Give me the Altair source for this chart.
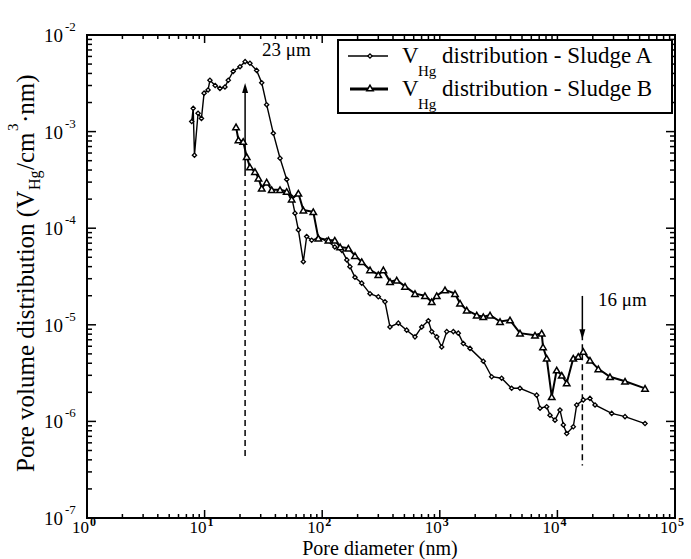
import altair as alt
import pandas as pd

# ---------------- data ----------------
a_diam = [7.77, 8.0, 8.2, 8.8, 9.4, 9.9, 10.7, 11.1, 12.3, 13.5, 14.9, 15.9, 17.5, 20.0,
          22.1, 24.3, 27.7, 30.6, 33.7, 38.4, 43.8, 49.9, 55.0, 58.7, 62.7, 69.1, 73.8,
          81.4, 92.7, 109, 128, 147, 162, 172, 190, 217, 255, 300, 342, 377, 444, 523,
          615, 702, 799, 854, 942, 1038, 1145, 1303, 1436, 1585, 1807, 2344, 2762, 3357,
          4083, 4806, 6664, 7115, 8111, 8650, 9540, 10520, 11230, 12000, 13650, 14590,
          16600, 18920, 20890, 28960, 37580, 55600]
a_vol = [1.27e-3, 1.74e-3, 5.7e-4, 1.55e-3, 1.37e-3, 2.5e-3, 2.7e-3, 3.4e-3, 3.0e-3,
         2.8e-3, 2.9e-3, 3.4e-3, 4.2e-3, 4.7e-3, 5.3e-3, 5.1e-3, 4.3e-3, 3.2e-3, 1.9e-3,
         9.6e-4, 5.3e-4, 3.2e-4, 2.1e-4, 1.43e-4, 9.6e-5, 4.5e-5, 8.2e-5, 7.5e-5, 7.9e-5,
         7.5e-5, 6.4e-5, 5.9e-5, 4.7e-5, 4.0e-5, 3.1e-5, 2.7e-5, 2.1e-5, 1.95e-5, 1.73e-5,
         9.5e-6, 1.04e-5, 8.8e-6, 7.5e-6, 9.5e-6, 1.1e-5, 8.5e-6, 7.5e-6, 5.9e-6, 8.5e-6,
         8.5e-6, 8.2e-6, 6.4e-6, 5.7e-6, 4.2e-6, 2.9e-6, 2.8e-6, 2.2e-6, 2.2e-6, 1.87e-6,
         1.37e-6, 1.42e-6, 1.16e-6, 1.03e-6, 1.31e-6, 9.2e-7, 7.5e-7, 8.8e-7, 1.48e-6,
         1.67e-6, 1.73e-6, 1.48e-6, 1.21e-6, 1.12e-6, 9.5e-7]

b_diam = [18.5, 19.4, 21.3, 22.8, 24.3, 26.8, 28.7, 30.6, 33.7, 37.2, 43.8, 49.9, 55.0,
          62.7, 69.1, 84, 92.7, 113, 128, 142, 167, 190, 217, 255, 300, 331, 377, 430,
          506, 615, 748, 854, 942, 1107, 1346, 1486, 1694, 2061, 2344, 2673, 3251, 3955,
          4806, 6450, 7350, 7550, 8111, 8950, 9860, 10890, 12000, 13650, 15060, 16600,
          18920, 22280, 28000, 37580, 55600]
b_vol = [1.12e-3, 8.2e-4, 7.9e-4, 5.5e-4, 4.3e-4, 3.85e-4, 3.3e-4, 2.6e-4, 3.0e-4, 2.5e-4,
         2.5e-4, 2.4e-4, 2.0e-4, 2.3e-4, 1.54e-4, 1.48e-4, 7.9e-5, 7.5e-5, 7.5e-5, 6.4e-5,
         6.2e-5, 5.2e-5, 4.5e-5, 3.7e-5, 3.3e-5, 3.7e-5, 2.8e-5, 2.9e-5, 2.5e-5, 2.1e-5,
         2.0e-5, 1.73e-5, 2.0e-5, 2.3e-5, 2.1e-5, 1.67e-5, 1.42e-5, 1.26e-5, 1.21e-5,
         1.26e-5, 1.08e-5, 1.12e-5, 8.2e-6, 7.8e-6, 8.2e-6, 5.9e-6, 4.5e-6, 1.8e-6, 3.4e-6,
         3.0e-6, 2.5e-6, 4.5e-6, 4.7e-6, 5.3e-6, 4.3e-6, 3.5e-6, 2.9e-6, 2.6e-6, 2.2e-6]

# annotation arrows (23 um peak and 16 um peak)
arrow_x = [22.1, 16300.0]
arrow_solid_from = [2.83e-3, 1.99e-5]
arrow_solid_to = [4.0e-4, 8.0e-6]
dash_from = [4.0e-4, 8.0e-6]
dash_to = [4.3e-7, 3.5e-7]
head_y = [2.83e-3, 8.0e-6]
head_dir = ["up", "down"]
annot_text = ["23 μm", "16 μm"]

x_exps = [0, 1, 2, 3, 4, 5]
y_exps = [-2, -3, -4, -5, -6, -7]
minor_mult = [2, 3, 4, 5, 6, 7, 8, 9]

# ---------------- layout ----------------
W, H = 588, 483
FONT = "Liberation Serif"

xs = alt.Scale(type="log", domain=[1, 1e5], nice=False)
ys = alt.Scale(type="log", domain=[1e-7, 1e-2], nice=False)

dfA = pd.DataFrame({"d": a_diam, "v": a_vol})
dfB = pd.DataFrame({"d": b_diam, "v": b_vol})

X = lambda f: alt.X(f, type="quantitative", scale=xs, axis=None)
Y = lambda f: alt.Y(f, type="quantitative", scale=ys, axis=None)

lineA = alt.Chart(dfA).mark_line(color="black", strokeWidth=1.4).encode(x=X("d"), y=Y("v"))
ptsA = alt.Chart(dfA).mark_point(shape="diamond", size=18, filled=True, fill="white",
                                 stroke="black", strokeWidth=1.3, opacity=1).encode(x=X("d"), y=Y("v"))
lineB = alt.Chart(dfB).mark_line(color="black", strokeWidth=2).encode(x=X("d"), y=Y("v"))
ptsB = alt.Chart(dfB).mark_point(shape="triangle-up", size=42, filled=True, fill="white",
                                 stroke="black", strokeWidth=1.5, opacity=1).encode(x=X("d"), y=Y("v"))

# ticks
x_major = [10.0 ** e for e in x_exps]
x_minor = [m * 10.0 ** e for e in x_exps[:-1] for m in minor_mult]
y_major = [10.0 ** e for e in y_exps]
y_minor = [m * 10.0 ** e for e in y_exps[1:] for m in minor_mult]

def xticks(vals, length):
    df = pd.DataFrame({"t": vals})
    bot = alt.Chart(df).mark_rule(color="black", strokeWidth=1.5).encode(
        x=X("t"), y=alt.value(H), y2=alt.value(H - length))
    top = alt.Chart(df).mark_rule(color="black", strokeWidth=1.5).encode(
        x=X("t"), y=alt.value(0), y2=alt.value(length))
    return [bot, top]

def yticks(vals, length):
    df = pd.DataFrame({"t": vals})
    left = alt.Chart(df).mark_rule(color="black", strokeWidth=1.5).encode(
        y=Y("t"), x=alt.value(0), x2=alt.value(length))
    right = alt.Chart(df).mark_rule(color="black", strokeWidth=1.5).encode(
        y=Y("t"), x=alt.value(W), x2=alt.value(W - length))
    return [left, right]

tick_layers = xticks(x_major, 8) + xticks(x_minor, 4) + yticks(y_major, 9) + yticks(y_minor, 5)

# tick labels 10^n
dfx = pd.DataFrame({"t": x_major, "e": [str(e) for e in x_exps]})
xl10 = alt.Chart(dfx).mark_text(font=FONT, fontSize=17, align="right", baseline="alphabetic",
                                dx=2, color="black").encode(x=X("t"), y=alt.value(H + 15), text=alt.value("10"))
xlexp = alt.Chart(dfx).mark_text(font=FONT, fontSize=12, fontWeight="bold", align="left",
                                 baseline="alphabetic", dx=3, color="black").encode(
    x=X("t"), y=alt.value(H + 8), text="e:N")
dfy = pd.DataFrame({"t": y_major, "e": [str(e) for e in y_exps]})
yl10 = alt.Chart(dfy).mark_text(font=FONT, fontSize=19, align="right", baseline="alphabetic",
                                dy=7, color="black").encode(y=Y("t"), x=alt.value(-24), text=alt.value("10"))
ylexp = alt.Chart(dfy).mark_text(font=FONT, fontSize=13, align="left", baseline="alphabetic",
                                 dy=-4, color="black").encode(y=Y("t"), x=alt.value(-22), text="e:N")

# annotations
dfa = pd.DataFrame({"x": arrow_x, "s1": arrow_solid_from, "s2": arrow_solid_to,
                    "d1": dash_from, "d2": dash_to, "hy": head_y, "dir": head_dir})
solid = alt.Chart(dfa).mark_rule(color="black", strokeWidth=1.5).encode(
    x=X("x"), y=Y("s1"), y2="s2")
dashed = alt.Chart(dfa).mark_rule(color="black", strokeWidth=1.5, strokeDash=[6, 4]).encode(
    x=X("x"), y=Y("d1"), y2="d2")
head_up = alt.Chart(dfa[dfa["dir"] == "up"]).mark_point(
    shape="M0,-1L0.6,1L-0.6,1Z", size=100, filled=True, color="black", opacity=1).encode(x=X("x"), y=Y("hy"))
head_dn = alt.Chart(dfa[dfa["dir"] == "down"]).mark_point(
    shape="M0,1L0.6,-1L-0.6,-1Z", size=100, filled=True, color="black", opacity=1).encode(x=X("x"), y=Y("hy"))

def txt(s, x, y, size, angle=0, weight="normal"):
    return alt.Chart(pd.DataFrame({"t": [s]})).mark_text(
        font=FONT, fontSize=size, align="left", baseline="alphabetic", angle=angle,
        fontWeight=weight, color="black").encode(x=alt.value(x), y=alt.value(y), text="t:N")

ann1 = txt(annot_text[0], 175, 21, 19)
ann2 = txt(annot_text[1], 511, 271, 19)

# legend (manual)
one = pd.DataFrame({"a": [0]})
leg_box = alt.Chart(one).mark_rect(fill="white", stroke="black", strokeWidth=2).encode(
    x=alt.value(251), x2=alt.value(585), y=alt.value(5), y2=alt.value(78))
leg_l1 = alt.Chart(one).mark_rule(color="black", strokeWidth=1.4).encode(
    x=alt.value(261), x2=alt.value(301), y=alt.value(21))
leg_l2 = alt.Chart(one).mark_rule(color="black", strokeWidth=3).encode(
    x=alt.value(263), x2=alt.value(301), y=alt.value(54))
leg_p1 = alt.Chart(one).mark_point(shape="diamond", size=18, filled=True, fill="white",
                                   stroke="black", strokeWidth=1.3, opacity=1).encode(
    x=alt.value(283), y=alt.value(21))
leg_p2 = alt.Chart(one).mark_point(shape="triangle-up", size=42, filled=True, fill="white",
                                   stroke="black", strokeWidth=1.5, opacity=1).encode(
    x=alt.value(283), y=alt.value(53))

legend_texts = [
    txt("V", 315, 28, 23), txt("Hg", 331, 41, 15), txt("distribution - Sludge A", 355, 28, 23),
    txt("V", 315, 61, 23), txt("Hg", 331, 74, 15), txt("distribution - Sludge B", 355, 61, 23),
]

# axis titles
xtitle = alt.Chart(pd.DataFrame({"t": ["Pore diameter (nm)"]})).mark_text(
    font=FONT, fontSize=20, align="center", baseline="alphabetic", color="black").encode(
    x=alt.value(293), y=alt.value(H + 36.5), text="t:N")
ytitle = [
    txt("Pore volume distribution (V", -53, 437, 25, angle=270),
    txt("Hg", -47, 155, 16, angle=270),
    txt("/cm", -53, 135, 25, angle=270),
    txt("3", -69, 96, 15, angle=270),
    txt("·nm)", -53, 88, 25, angle=270),
]

layers = (tick_layers + [dashed, solid, head_up, head_dn, lineA, lineB, ptsA, ptsB,
                         xl10, xlexp, yl10, ylexp, ann1, ann2, leg_box, leg_l1, leg_l2,
                         leg_p1, leg_p2, xtitle] + legend_texts + ytitle)

chart = alt.layer(*layers).properties(
    width=W, height=H,
    autosize=alt.AutoSizeParams(type="none"),
    padding={"left": 87, "top": 35, "right": 16, "bottom": 41},
    background="white",
).configure_view(stroke="black", strokeWidth=2)

chart.save("out.html", embed_options={"renderer": "svg", "actions": False})
